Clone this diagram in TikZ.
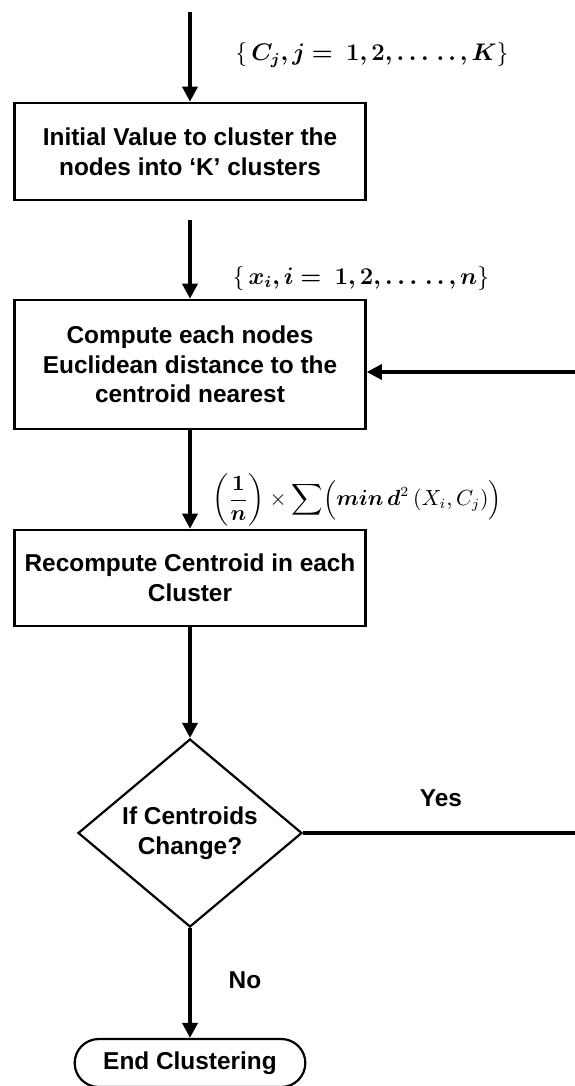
\documentclass[tikz,border=0pt]{standalone}
\usepackage{amsmath}
\usepackage{bm}
\usepackage[no-math]{fontspec}
\setmainfont{Liberation Sans}
\usetikzlibrary{arrows.meta,shapes.geometric,shapes.misc}

\begin{document}
\begin{tikzpicture}[x=0.5pt,y=0.5pt]
\tikzstyle{every node}+=[font=\fontsize{12.2}{14.8}\selectfont\bfseries]
\tikzstyle{stepbox}=[draw=black,line width=1.3pt,rectangle,minimum width=175.5pt,align=center,inner sep=2pt]
\tikzstyle{flow}=[line width=1.7pt,-{Triangle[width=7.5pt,length=7.5pt]}]
\tikzstyle{plain}=[line width=1.7pt]
\tikzstyle{mathlbl}=[font=\fontsize{12}{14}\selectfont,inner sep=0pt]
\useasboundingbox (0,0) rectangle (574,-1086);
% boxes
\node [stepbox,minimum height=48.5pt] (init) at (190,-151.5) {Initial Value to cluster the\\nodes into `K' clusters};
\node [stepbox,minimum height=64.5pt] (dist) at (190,-364.5) {Compute each nodes\\Euclidean distance to the\\centroid nearest};
\node [stepbox,minimum height=48pt] (recomp) at (190,-578) {Recompute Centroid in each\\Cluster};
\node [draw=black,line width=1.1pt,diamond,minimum width=112pt,minimum height=87.5pt,inner sep=0pt,align=center] (change) at (190,-833) {If Centroids\\Change?};
\node [draw=black,line width=1.1pt,rounded rectangle,minimum width=122pt,minimum height=24pt] (stop) at (190,-1063) {End Clustering};
% free ends
\coordinate (in) at (190,-12);
\coordinate (initout) at (190,-220);
\coordinate (back) at (578,-372);
% arrows
\draw [flow] (in) -- (init.north);
\draw [flow] (initout) -- (dist.north);
\draw [flow] (dist.south) -- (recomp.north);
\draw [flow] (recomp.south) -- (change.north);
\draw [flow] (change.south) -- (stop.north);
\draw [plain] (change.east) -- (change.east -| back) -- (back);
\draw [flow] (back) -- (back -| dist.east);
% labels
\node [mathlbl] (cset) at (372,-55) {$\{\,\bm{C_j, j =\ 1, 2, \ldots\,.\,.\,, K}\}$};
\node [mathlbl] (xset) at (361,-278) {$\{\,\bm{x_i, i =\ 1, 2, \ldots\,.\,.\,, n}\}$};
\node [mathlbl,font=\fontsize{10.5}{12}\selectfont] (cost) at (357,-500) {$\displaystyle\left(\frac{\bm{1}}{\bm{n}}\right)\times\sum\Bigl(\bm{min}\,\bm{d}^{2}\,(X_i, C_j)\Bigr)$};
\node (yes) at (441,-798) {Yes};
\node (no) at (245,-980) {No};
\end{tikzpicture}
\end{document}
